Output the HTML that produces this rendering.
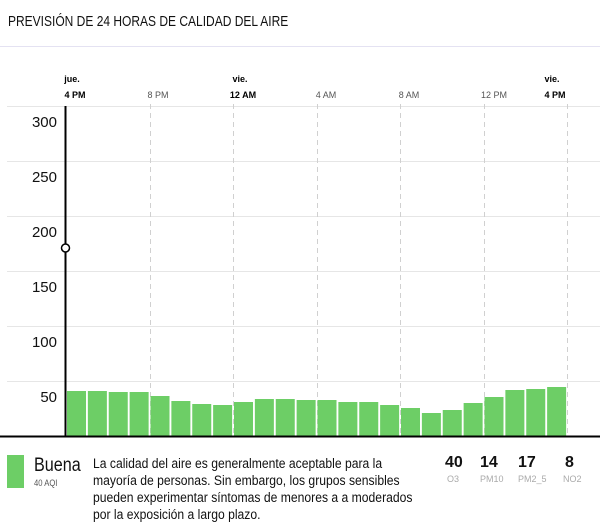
<!DOCTYPE html>
<html><head><meta charset="utf-8"><style>
body{margin:0;width:600px;height:527px;background:#fff;font-family:"Liberation Sans",sans-serif;color:#111;position:relative;overflow:hidden}
.a{position:absolute;white-space:nowrap;transform-origin:0 0}
</style></head><body>
<div class="a" style="left:8px;top:13px;font-size:15px;transform:scaleX(0.8)">PREVISIÓN DE 24 HORAS DE CALIDAD DEL AIRE</div>
<div class="a" style="left:0;top:46px;width:600px;height:1px;background:#e4e2f2"></div>
<svg class="a" style="left:0;top:0" width="600" height="450">
<g stroke="#e6e6e6" stroke-width="1">
<line x1="7" y1="106.5" x2="600" y2="106.5"/><line x1="7" y1="161.5" x2="600" y2="161.5"/><line x1="7" y1="216.5" x2="600" y2="216.5"/><line x1="7" y1="271.5" x2="600" y2="271.5"/><line x1="7" y1="326.5" x2="600" y2="326.5"/><line x1="7" y1="381.5" x2="600" y2="381.5"/>
</g>
<g stroke="#d0d0d0" stroke-width="1" stroke-dasharray="5,4">
<line x1="150.5" y1="104" x2="150.5" y2="436"/><line x1="233.5" y1="104" x2="233.5" y2="436"/><line x1="317.5" y1="104" x2="317.5" y2="436"/><line x1="400.5" y1="104" x2="400.5" y2="436"/><line x1="484.5" y1="104" x2="484.5" y2="436"/><line x1="567.5" y1="104" x2="567.5" y2="436"/>
</g>
<g fill="#6dce66" id="bars"></g>
<line x1="65.5" y1="106" x2="65.5" y2="436" stroke="#000" stroke-width="2"/>
<line x1="0" y1="436.5" x2="600" y2="436.5" stroke="#000" stroke-width="2"/>
<circle cx="65.5" cy="248" r="4" fill="#fff" stroke="#000" stroke-width="1.5"/>
<g font-size="15" text-anchor="end" fill="#111">
<text x="57" y="127">300</text><text x="57" y="182">250</text><text x="57" y="237">200</text><text x="57" y="292">150</text><text x="57" y="347">100</text><text x="57" y="402">50</text>
</g>
<g font-size="9" text-anchor="middle">
<text x="72" y="82" font-weight="bold">jue.</text><text x="75" y="98" font-weight="bold">4 PM</text>
<text x="158" y="98" fill="#555">8 PM</text>
<text x="240" y="82" font-weight="bold">vie.</text><text x="243" y="98" font-weight="bold">12 AM</text>
<text x="326" y="98" fill="#555">4 AM</text>
<text x="409" y="98" fill="#555">8 AM</text>
<text x="494" y="98" fill="#555">12 PM</text>
<text x="552" y="82" font-weight="bold">vie.</text><text x="555" y="98" font-weight="bold">4 PM</text>
</g>
</svg>
<script>
var h=[45,45,44,44,40,35,32,31,34,37,37,36,36,34,34,31,28,23,26,33,39,46,47,49];
var g=document.getElementById('bars'),s='';
for(var i=0;i<24;i++){var x=66+i*20.875;s+='<rect x="'+(x+1)+'" y="'+(436-h[i])+'" width="19" height="'+h[i]+'"/>';}
g.innerHTML=s;
</script>
<div class="a" style="left:7px;top:455px;width:17px;height:33px;background:#6dce66"></div>
<div class="a" style="left:34px;top:455px;font-size:19px;transform:scaleX(0.85)">Buena</div>
<div class="a" style="left:34px;top:478px;font-size:9px;color:#555;transform:scaleX(0.85)">40 AQI</div>
<div class="a" style="left:93px;top:455px;font-size:13.5px;line-height:17px;transform:scaleX(0.9)">La calidad del aire es generalmente aceptable para la<br>mayoría de personas. Sin embargo, los grupos sensibles<br>pueden experimentar síntomas de menores a a moderados<br>por la exposición a largo plazo.</div>
<div class="a" style="left:445px;top:454px;font-size:16px;font-weight:bold">40</div>
<div class="a" style="left:447px;top:474px;font-size:9px;color:#aaa">O3</div>
<div class="a" style="left:480px;top:454px;font-size:16px;font-weight:bold">14</div>
<div class="a" style="left:480px;top:474px;font-size:9px;color:#aaa">PM10</div>
<div class="a" style="left:518px;top:454px;font-size:16px;font-weight:bold">17</div>
<div class="a" style="left:518px;top:474px;font-size:9px;color:#aaa">PM2_5</div>
<div class="a" style="left:565px;top:454px;font-size:16px;font-weight:bold">8</div>
<div class="a" style="left:563px;top:474px;font-size:9px;color:#aaa">NO2</div>
</body></html>
